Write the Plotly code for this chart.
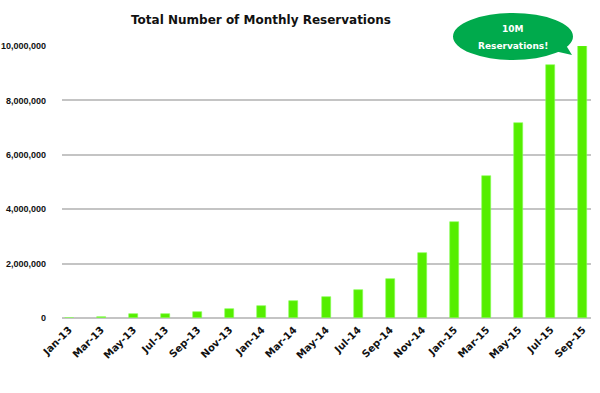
import plotly.graph_objects as go

months = ["Jan-13", "Mar-13", "May-13", "Jul-13", "Sep-13", "Nov-13", "Jan-14", "Mar-14",
          "May-14", "Jul-14", "Sep-14", "Nov-14", "Jan-15", "Mar-15", "May-15", "Jul-15", "Sep-15"]
reservations = [0, 40000, 130000, 160000, 220000, 330000, 440000, 610000,
                757000, 1030000, 1445000, 2405000, 3540000, 5230000, 7160000, 9290000, 10000000]
y_ticks = [0, 2000000, 4000000, 6000000, 8000000, 10000000]
y_tick_labels = ["0", "2,000,000", "4,000,000", "6,000,000", "8,000,000", "10,000,000"]
title_text = "Total Number of Monthly Reservations"
bubble_lines = ["10M", "Reservations!"]

W, H = 600, 393
L, R, T, B = 62, 591, 46, 318  # plot area in page pixels


def px(x):
    return (x - L) / (R - L)


def py(y):
    return (B - y) / (B - T)


fig = go.Figure()
fig.add_trace(go.Bar(
    x=list(range(len(months))), y=reservations,
    width=0.28,
    marker=dict(color="#55EE00", line=dict(color="#88FF55", width=0.6)),
    cliponaxis=False,
))

fig.update_layout(
    width=W, height=H,
    margin=dict(l=L, r=W - R, t=T, b=H - B, autoexpand=False),
    plot_bgcolor="white", paper_bgcolor="white",
    showlegend=False,
    bargap=0,
    font=dict(family="Liberation Sans, Arial, sans-serif", color="#111111"),
    xaxis=dict(
        range=[-0.22, 16.25], automargin=False,
        tickmode="array", tickvals=list(range(len(months))), ticktext=months,
        tickangle=-45, showgrid=False, zeroline=False, showline=False,
        tickfont=dict(size=10, family="DejaVu Sans, sans-serif", weight="bold", color="#111111"),
        ticks="", ticklabelstandoff=3,
    ),
    yaxis=dict(
        range=[0, 10000000], automargin=False,
        tickmode="array", tickvals=y_ticks, ticktext=y_tick_labels,
        showgrid=True, gridcolor="#C4C4C4", gridwidth=1.5,
        zeroline=True, zerolinecolor="#C4C4C4", zerolinewidth=1.5,
        showline=False, ticks="", ticklabelstandoff=15,
        tickfont=dict(size=9, family="Liberation Sans, Arial, sans-serif", weight="bold", color="#111111"),
    ),
)

fig.add_annotation(
    text="<b>" + title_text + "</b>", xref="paper", yref="paper",
    x=px(261), y=py(20), xanchor="center", yanchor="middle", showarrow=False,
    font=dict(size=12, family="DejaVu Sans, sans-serif", color="#111111"),
)

# speech bubble
fig.add_shape(type="path",
              path=f"M {px(550)} {py(50)} L {px(572)} {py(55)} L {px(564)} {py(42)} Z",
              xref="paper", yref="paper", fillcolor="#00AA4C", line=dict(width=0), layer="above")
fig.add_shape(type="circle", xref="paper", yref="paper",
              x0=px(453), x1=px(573), y0=py(60), y1=py(13),
              fillcolor="#00AA4C", line=dict(width=0), layer="above")
fig.add_annotation(text="<b>" + bubble_lines[0] + "</b>", xref="paper", yref="paper",
                   x=px(513), y=py(29), showarrow=False, xanchor="center", yanchor="middle",
                   font=dict(size=9, color="white", family="DejaVu Sans, sans-serif"))
fig.add_annotation(text="<b>" + bubble_lines[1] + "</b>", xref="paper", yref="paper",
                   x=px(513), y=py(46), showarrow=False, xanchor="center", yanchor="middle",
                   font=dict(size=9, color="white", family="DejaVu Sans, sans-serif"))

fig.write_html("out.html", config={"displayModeBar": False},
               post_script="document.body.style.margin='0';document.body.style.overflow='hidden';")
